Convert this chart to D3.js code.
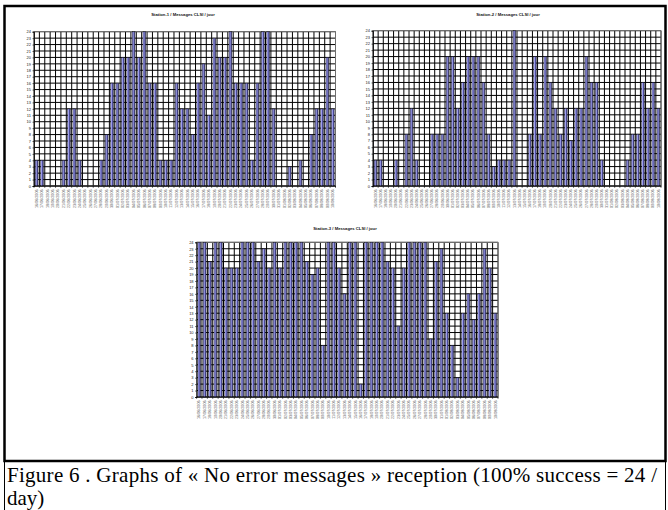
<!DOCTYPE html>
<html lang="fr">
<head>
<meta charset="UTF-8" />
<title>Stations - Messages CLSI / jour</title>
<script src="https://d3js.org/d3.v7.min.js"></script>
<style>
  body { margin: 0; background: #fff; }
  svg { display: block; }
  .title { font-family: Arial, 'Liberation Sans', sans-serif; font-weight: bold; font-size: 4.2px; fill: #111; }
  .ytick { font-family: Arial, 'Liberation Sans', sans-serif; font-size: 4px; fill: #222; }
  .xtick { font-family: Arial, 'Liberation Sans', sans-serif; font-size: 3.7px; fill: #555; }
  .caption { font-family: 'Liberation Serif', 'Times New Roman', serif; font-size: 21px; fill: #000; }
</style>
</head>
<body>
<svg id="fig" width="668" height="510"></svg>
<script>
// dates (x categories)
const dates = [
  "16/06/2006","17/06/2006","18/06/2006","19/06/2006","20/06/2006","21/06/2006","22/06/2006",
  "23/06/2006","24/06/2006","25/06/2006","26/06/2006","27/06/2006","28/06/2006","29/06/2006",
  "30/06/2006","01/07/2006","02/07/2006","03/07/2006","04/07/2006","05/07/2006","06/07/2006",
  "07/07/2006","08/07/2006","09/07/2006","10/07/2006","11/07/2006","12/07/2006","13/07/2006",
  "14/07/2006","15/07/2006","16/07/2006","17/07/2006","18/07/2006","19/07/2006","20/07/2006",
  "21/07/2006","22/07/2006","23/07/2006","24/07/2006","25/07/2006","26/07/2006","27/07/2006",
  "28/07/2006","29/07/2006","30/07/2006","31/07/2006","01/08/2006","02/08/2006","03/08/2006",
  "04/08/2006","05/08/2006","06/08/2006","07/08/2006","08/08/2006","09/08/2006","10/08/2006"
];

// messages received per day
const station1 = [4,4,0,0,0,4,12,12,4,0,0,0,4,8,16,16,20,20,24,20,24,16,16,4,4,4,16,12,
                  12,8,16,19,11,23,20,20,24,16,16,16,4,16,24,24,12,0,0,3,0,4,0,8,12,12,20,12];
const station2 = [4,4,0,0,4,0,8,12,4,0,0,8,8,8,20,20,12,16,20,20,20,16,8,3,4,4,4,24,
                  0,0,8,20,8,20,16,12,8,12,7,12,12,20,16,16,4,0,0,0,0,4,8,8,16,12,16,12];
const station3 = [24,24,21,24,24,20,20,20,24,24,24,21,23,20,24,20,24,24,24,24,21,19,20,8,
                  24,24,20,16,24,24,2,24,24,24,24,21,20,11,20,24,24,24,24,9,21,23,13,8,3,13,
                  16,12,16,23,20,13];

const titles = ["Station-1 / Messages CLSI / jour", "Station-2 / Messages CLSI / jour", "Station-3 / Messages CLSI / jour"];
const yMax = 24;

const svg = d3.select("#fig");
svg.append("rect").attr("width", 668).attr("height", 510).attr("fill", "#fff");

function drawChart(values, title, box) {
  const g = svg.append("g");
  const x = d3.scaleBand().domain(dates).range([box.x0, box.x1]).paddingInner(0.5).paddingOuter(0.25);
  const y = d3.scaleLinear().domain([0, yMax]).range([box.y1, box.y0]);
  const step = x.step();

  // horizontal grid
  g.append("g").selectAll("line").data(d3.range(0, yMax + 1)).join("line")
    .attr("x1", box.x0).attr("x2", box.x1)
    .attr("y1", d => y(d)).attr("y2", d => y(d))
    .attr("stroke", "#000").attr("stroke-width", 1);

  // vertical grid at category boundaries
  g.append("g").selectAll("line").data(d3.range(0, dates.length + 1)).join("line")
    .attr("x1", i => box.x0 + i * step).attr("x2", i => box.x0 + i * step)
    .attr("y1", box.y0).attr("y2", box.y1 + 1.5)
    .attr("stroke", "#000").attr("stroke-width", 1);

  // plot border
  g.append("rect")
    .attr("x", box.x0).attr("y", box.y0)
    .attr("width", box.x1 - box.x0).attr("height", box.y1 - box.y0)
    .attr("fill", "none").attr("stroke", "#888").attr("stroke-width", 0.8);

  // bars
  const bars = g.append("g").selectAll("g").data(values.map((v, i) => ({ d: dates[i], v }))).join("g")
    .filter(d => d.v > 0);
  bars.append("rect")
    .attr("x", d => x(d.d)).attr("y", d => y(d.v))
    .attr("width", x.bandwidth()).attr("height", d => y(0) - y(d.v))
    .attr("fill", "#4c4c96").attr("stroke", "#111").attr("stroke-width", 0.4);
  bars.append("rect")
    .attr("x", d => x(d.d) + 0.45).attr("y", d => y(d.v) + 0.5)
    .attr("width", 0.85).attr("height", d => Math.max(0, y(0) - y(d.v) - 0.5))
    .attr("fill", "#aeaeff");

  // y axis
  const yAxis = g.append("g").attr("transform", `translate(${box.x0},0)`)
    .call(d3.axisLeft(y).tickValues(d3.range(0, yMax + 1)).tickSize(1.5).tickPadding(1.5));
  yAxis.select(".domain").attr("stroke", "#000").attr("stroke-width", 0.8);
  yAxis.selectAll(".tick line").attr("stroke", "#000").attr("stroke-width", 0.6);
  yAxis.selectAll("text").attr("class", "ytick").attr("font-size", null).attr("font-family", null);

  // x labels
  g.append("g").selectAll("text").data(dates).join("text")
    .attr("class", "xtick")
    .attr("text-anchor", "end")
    .attr("transform", d => `translate(${x(d) + x.bandwidth() / 2 + 1.2},${box.y1 + 3.5}) rotate(-90)`)
    .text(d => d);

  // baseline
  g.append("line").attr("x1", box.x0).attr("x2", box.x1).attr("y1", y(0)).attr("y2", y(0))
    .attr("stroke", "#000").attr("stroke-width", 1);

  g.append("text").attr("class", "title")
    .attr("x", box.tx).attr("y", box.ty).attr("text-anchor", "middle")
    .text(title);
}

drawChart(station1, titles[0], { x0: 34, x1: 335.5, y0: 31.7, y1: 186, tx: 183, ty: 16 });
drawChart(station2, titles[1], { x0: 373, x1: 661, y0: 30.7, y1: 186, tx: 508, ty: 16 });
drawChart(station3, titles[2], { x0: 196.6, x1: 498, y0: 242.3, y1: 397, tx: 345, ty: 230 });

// frame
svg.append("path")
  .attr("d", "M4.5,461 L4.5,6 L665.5,6 L665.5,461 Z")
  .attr("fill", "none").attr("stroke", "#000").attr("stroke-width", 2.5);
svg.append("path")
  .attr("d", "M4.5,461 L4.5,510 M665.5,461 L665.5,510")
  .attr("fill", "none").attr("stroke", "#000").attr("stroke-width", 1);

// caption
svg.append("text").attr("class", "caption").attr("x", 7).attr("y", 482)
  .attr("textLength", 650).attr("lengthAdjust", "spacing")
  .text("Figure 6 . Graphs of « No error messages » reception (100% success = 24 /");
svg.append("text").attr("class", "caption").attr("x", 7).attr("y", 505.3)
  .text("day)");
</script>
</body>
</html>
